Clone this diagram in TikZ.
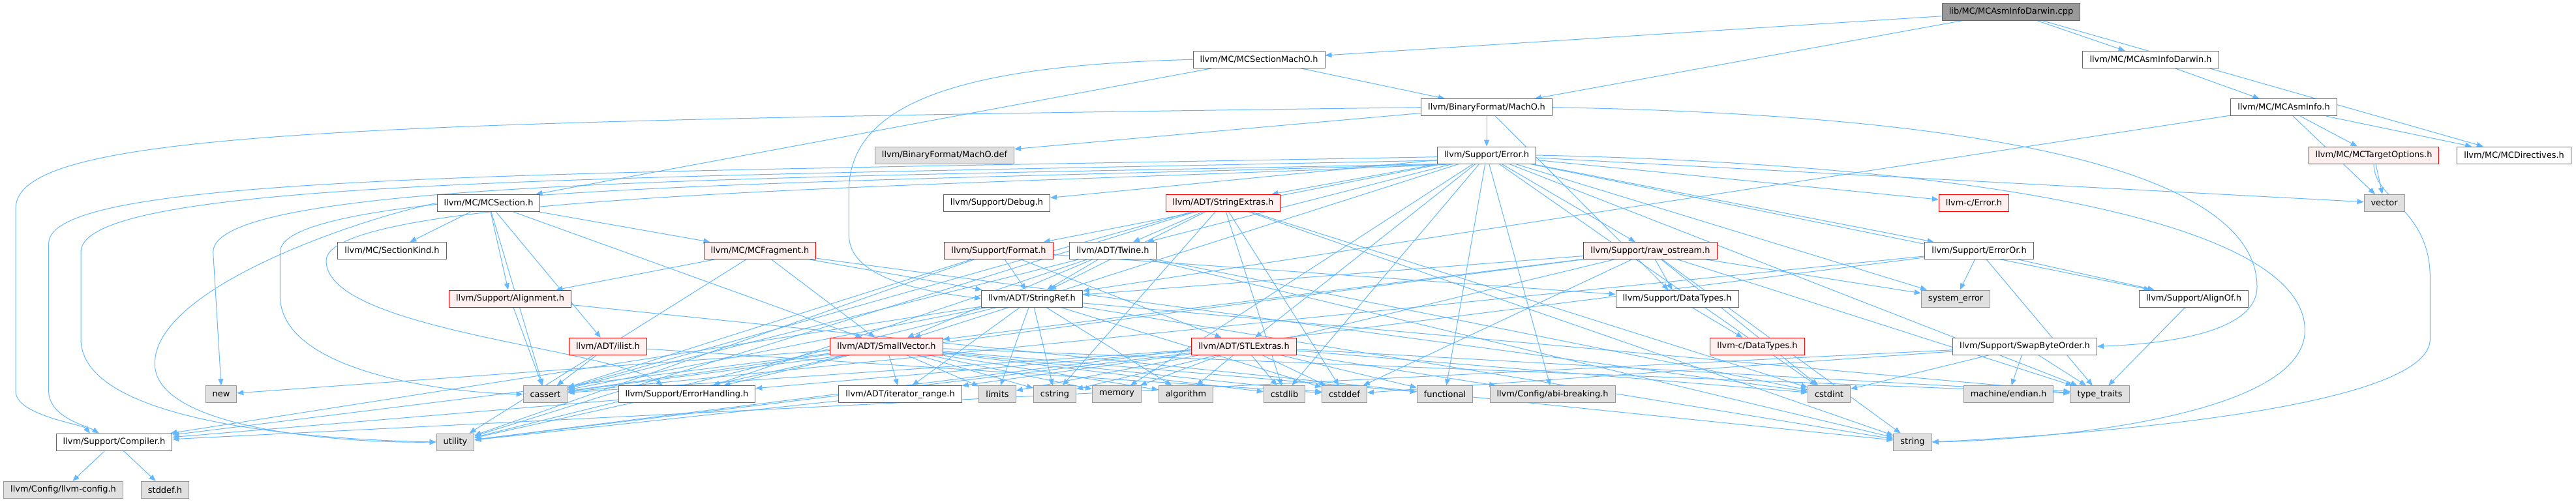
\documentclass[tikz,border=0pt]{standalone}
\usepackage{fontspec}
\setmainfont{DejaVu Sans}
\usepackage{xcolor}
\usepackage{tikz}
\usetikzlibrary{arrows.meta, positioning, backgrounds}

\definecolor{edgeblue}{HTML}{63B8FF}
\definecolor{truncfill}{HTML}{FFF0F0}
\definecolor{sysfill}{HTML}{E0E0E0}

\begin{document}
\begin{tikzpicture}[
        file/.style={rectangle, draw=black!60, line width=0.75pt, fill=white, minimum height=19.5pt, inner xsep=7.9pt, inner ysep=0pt, font=\fontsize{9.7pt}{11pt}\selectfont},
        trunc/.style={file, draw=red, fill=truncfill},
        sys/.style={file, draw=black!40, fill=sysfill},
        root/.style={file, draw=black!60, fill=black!40},
        arrow/.style={-{Triangle[length=7.5pt, width=6pt]}, draw=edgeblue, line width=0.75pt},
        on grid, node distance=55pt
    ]
        \useasboundingbox (0,0) rectangle (2961.75pt,-576.75pt);

        % source file and the headers it includes
        \node[root] (cpp) at (2312.25pt,-13.5pt) {lib/MC/MCAsmInfoDarwin.cpp};
        \node[file, below left=55pt and 864.75pt of cpp] (secmacho) {llvm/MC/MCSectionMachO.h};
        \node[file, below right=55pt and 160.5pt of cpp] (asmdarwin) {llvm/MC/MCAsmInfoDarwin.h};
        \node[file, below right=55pt and 261.75pt of secmacho] (macho) {llvm/BinaryFormat/MachO.h};
        \node[file, below right=55pt and 153pt of asmdarwin] (asminfo) {llvm/MC/MCAsmInfo.h};
        \node[file, below=of macho] (error) {llvm/Support/Error.h};
        \node[sys, left=623.25pt of error] (machodef) {llvm/BinaryFormat/MachO.def};
        \node[trunc, below right=55pt and 103.5pt of asminfo] (targetopt) {llvm/MC/MCTargetOptions.h};
        \node[file, right=161.25pt of targetopt] (directives) {llvm/MC/MCDirectives.h};

        % MC and Support headers
        \node[trunc, below left=55pt and 303pt of error] (strextras) {llvm/ADT/StringExtras.h};
        \node[file, left=260.25pt of strextras] (debug) {llvm/Support/Debug.h};
        \node[file, left=584.25pt of debug] (section) {llvm/MC/MCSection.h};
        \node[trunc, below right=55pt and 560.25pt of error] (cerror) {llvm-c/Error.h};
        \node[sys, below right=55pt and 12pt of targetopt] (vector) {vector};

        \node[file, below left=55pt and 111pt of section] (sectionkind) {llvm/MC/SectionKind.h};
        \node[trunc, right=423pt of sectionkind] (fragment) {llvm/MC/MCFragment.h};
        \node[trunc, below right=55pt and 2.25pt of debug] (format) {llvm/Support/Format.h};
        \node[file, right=131.25pt of format] (twine) {llvm/ADT/Twine.h};
        \node[trunc, right=618pt of twine] (rawos) {llvm/Support/raw\_ostream.h};
        \node[file, below right=55pt and 6pt of cerror] (erroror) {llvm/Support/ErrorOr.h};

        \node[trunc, below right=55pt and 135.75pt of sectionkind] (alignment) {llvm/Support/Alignment.h};
        \node[file, below right=55pt and 38.25pt of format] (stringref) {llvm/ADT/StringRef.h};
        \node[file, below right=55pt and 30.75pt of rawos] (datatypes) {llvm/Support/DataTypes.h};
        \node[sys, below left=55pt and 27pt of erroror] (syserr) {system\_error};
        \node[file, right=273.75pt of syserr] (alignof) {llvm/Support/AlignOf.h};

        % ADT headers
        \node[trunc, below right=55pt and 112.5pt of alignment] (ilist) {llvm/ADT/ilist.h};
        \node[trunc, right=320.25pt of ilist] (smallvec) {llvm/ADT/SmallVector.h};
        \node[trunc, right=411pt of smallvec] (stlextras) {llvm/ADT/STLExtras.h};
        \node[trunc, below right=55pt and 92.25pt of datatypes] (cdatatypes) {llvm-c/DataTypes.h};
        \node[file, below right=55pt and 79.5pt of syserr] (swap) {llvm/Support/SwapByteOrder.h};

        % leaves
        \node[file, below right=55pt and 15.75pt of smallvec] (iterrange) {llvm/ADT/iterator\_range.h};
        \node[file, left=245.25pt of iterrange] (errhandling) {llvm/Support/ErrorHandling.h};
        \node[sys, left=162.75pt of errhandling] (cassert) {cassert};
        \node[sys, left=372.75pt of cassert] (new) {new};
        \node[sys, right=111.75pt of iterrange] (limits) {limits};
        \node[sys, right=66pt of limits] (cstring) {cstring};
        \node[sys, right=71.25pt of cstring] (memory) {memory};
        \node[sys, right=79.5pt of memory] (algorithm) {algorithm};
        \node[sys, right=113.25pt of algorithm] (cstdlib) {cstdlib};
        \node[sys, right=69pt of cstdlib] (cstddef) {cstddef};
        \node[sys, right=115.5pt of cstddef] (functional) {functional};
        \node[sys, right=123.75pt of functional] (abibreak) {llvm/Config/abi-breaking.h};
        \node[sys, right=318pt of abibreak] (cstdint) {cstdint};
        \node[sys, below left=55pt and 18.75pt of swap] (endian) {machine/endian.h};
        \node[sys, right=105pt of endian] (typetraits) {type\_traits};

        \node[file, below left=55pt and 123pt of new] (compiler) {llvm/Support/Compiler.h};
        \node[sys, below left=55pt and 103.5pt of cassert] (utility) {utility};
        \node[sys, below right=55pt and 96pt of cstdint] (string) {string};
        \node[sys, below left=55pt and 58.5pt of compiler] (llvmconfig) {llvm/Config/llvm-config.h};
        \node[sys, right=117pt of llvmconfig] (stddef) {stddef.h};

        \begin{scope}[on background layer]
        % top of the graph
        \draw[arrow] (cpp) -- (secmacho);
        \draw[arrow] (cpp) -- (macho);
        \draw[arrow] (cpp) -- (asmdarwin);
        \draw[arrow] (cpp) -- (directives);
        \draw[arrow] (asmdarwin) -- (asminfo);
        \draw[arrow] (asminfo) -- (stringref);
        \draw[arrow] (asminfo) -- (targetopt);
        \draw[arrow] (asminfo) -- (directives);
        \draw[arrow] (asminfo) -- (vector);
        \draw[arrow] (targetopt) -- (vector);
        \draw[arrow] (targetopt.south) .. controls (2729pt,-230pt) and (2794pt,-240pt) .. (2794pt,-320pt) -- (2794pt,-390pt) .. controls (2794pt,-470pt) and (2400pt,-500pt) .. (string.east);
        \draw[arrow] (secmacho) -- (macho);
        \draw[arrow] (secmacho) -- (section);
        \draw[arrow] (secmacho.west) .. controls (1100pt,-75pt) and (976pt,-120pt) .. (976pt,-220pt) -- (976pt,-270pt) .. controls (976pt,-320pt) and (1060pt,-335pt) .. (stringref.west);
        \draw[arrow] (macho) -- (machodef);
        \draw[arrow] (macho) -- (error);
        \draw[arrow] (macho.west) .. controls (400pt,-140pt) and (18pt,-150pt) .. (18pt,-240pt) -- (18pt,-450pt) .. controls (18pt,-478pt) and (95pt,-488pt) .. (compiler.160);
        \draw[arrow] (macho) -- (datatypes);
        \draw[arrow] (macho.east) .. controls (2450pt,-135pt) and (2595pt,-240pt) .. (2595pt,-330pt) .. controls (2595pt,-385pt) and (2480pt,-396pt) .. (swap.east);

        % Error.h
        \draw[arrow] (error) -- (cerror);
        \draw[arrow] (error) -- (stlextras);
        \draw[arrow] (error) -- (smallvec);
        \draw[arrow] (error) -- (strextras);
        \draw[arrow] (error) -- (twine);
        \draw[arrow] (error) -- (abibreak);
        \draw[arrow] (error) -- (alignof);
        \draw[arrow] (error.182) .. controls (600pt,-200pt) and (56pt,-200pt) .. (56pt,-280pt) -- (56pt,-450pt) .. controls (56pt,-480pt) and (100pt,-490pt) .. (compiler.150);
        \draw[arrow] (error) -- (debug);
        \draw[arrow] (error.196) .. controls (1100pt,-215pt) and (375pt,-220pt) .. (375pt,-300pt) .. controls (375pt,-380pt) and (700pt,-400pt) .. (errhandling.160);
        \draw[arrow] (error) -- (erroror);
        \draw[arrow] (error) -- (format);
        \draw[arrow] (error) -- (rawos);
        \draw[arrow] (error.193) .. controls (1000pt,-210pt) and (322pt,-210pt) .. (322pt,-290pt) -- (322pt,-340pt) .. controls (322pt,-430pt) and (520pt,-452pt) .. (cassert.west);
        \draw[arrow] (error) -- (cstdint);
        \draw[arrow] (error) -- (cstdlib);
        \draw[arrow] (error) -- (functional);
        \draw[arrow] (error) -- (memory);
        \draw[arrow] (error.190) .. controls (900pt,-205pt) and (245pt,-205pt) .. (245pt,-290pt) -- (new.north);
        \draw[arrow] (error.east) .. controls (2300pt,-190pt) and (2650pt,-260pt) .. (2650pt,-380pt) .. controls (2650pt,-480pt) and (2350pt,-506pt) .. (string.east);
        \draw[arrow] (error) -- (syserr);
        \draw[arrow] (error) -- (typetraits);
        \draw[arrow] (error.186) .. controls (700pt,-205pt) and (93pt,-205pt) .. (93pt,-290pt) -- (93pt,-390pt) .. controls (93pt,-490pt) and (380pt,-506pt) .. (utility.west);
        \draw[arrow] (error) -- (vector);

        % MC headers
        \draw[arrow] (section) -- (sectionkind);
        \draw[arrow] (section) -- (fragment);
        \draw[arrow] (section) -- (alignment);
        \draw[arrow] (section) -- (ilist);
        \draw[arrow] (section) -- (smallvec);
        \draw[arrow] (section) -- (cassert);
        \draw[arrow] (section.west) .. controls (420pt,-250pt) and (175pt,-330pt) .. (178pt,-420pt) .. controls (181pt,-495pt) and (400pt,-510pt) .. (utility.west);
        \draw[arrow] (fragment) -- (alignment);
        \draw[arrow] (fragment) -- (smallvec);
        \draw[arrow] (fragment) -- (stringref);
        \draw[arrow] (fragment) -- (cstdint);
        \draw[arrow] (fragment) -- (utility);
        \draw[arrow] (alignment) -- (cassert);
        \draw[arrow] (alignment) -- (string);

        % Support headers
        \draw[arrow] (strextras) -- (stringref);
        \draw[arrow] (strextras) -- (twine);
        \draw[arrow] (strextras) -- (cassert);
        \draw[arrow] (strextras) -- (cstddef);
        \draw[arrow] (strextras) -- (cstdint);
        \draw[arrow] (strextras) -- (cstdlib);
        \draw[arrow] (strextras) -- (cstring);
        \draw[arrow] (strextras) -- (string);
        \draw[arrow] (strextras) -- (utility);
        \draw[arrow] (format) -- (stlextras);
        \draw[arrow] (format) -- (stringref);
        \draw[arrow] (format) -- (datatypes);
        \draw[arrow] (format) -- (cassert);
        \draw[arrow] (format) -- (utility);
        \draw[arrow] (twine) -- (smallvec);
        \draw[arrow] (twine) -- (stringref);
        \draw[arrow] (twine) -- (errhandling);
        \draw[arrow] (twine) -- (cassert);
        \draw[arrow] (twine) -- (cstdint);
        \draw[arrow] (twine) -- (string);
        \draw[arrow] (rawos) -- (smallvec);
        \draw[arrow] (rawos) -- (stringref);
        \draw[arrow] (rawos) -- (datatypes);
        \draw[arrow] (rawos) -- (cassert);
        \draw[arrow] (rawos) -- (cstddef);
        \draw[arrow] (rawos) -- (cstdint);
        \draw[arrow] (rawos) -- (cstring);
        \draw[arrow] (rawos) -- (string);
        \draw[arrow] (rawos) -- (syserr);
        \draw[arrow] (rawos) -- (typetraits);
        \draw[arrow] (erroror) -- (alignof);
        \draw[arrow] (erroror) -- (cassert);
        \draw[arrow] (erroror) -- (syserr);
        \draw[arrow] (erroror) -- (typetraits);
        \draw[arrow] (erroror) -- (utility);
        \draw[arrow] (datatypes) -- (cdatatypes);
        \draw[arrow] (alignof) -- (typetraits);
        \draw[arrow] (swap) -- (compiler);
        \draw[arrow] (swap) -- (cstddef);
        \draw[arrow] (swap) -- (cstdint);
        \draw[arrow] (swap) -- (endian);
        \draw[arrow] (swap) -- (typetraits);

        % ADT headers
        \draw[arrow] (stringref) -- (iterrange);
        \draw[arrow] (stringref) -- (compiler);
        \draw[arrow] (stringref) -- (algorithm);
        \draw[arrow] (stringref) -- (cassert);
        \draw[arrow] (stringref) -- (cstddef);
        \draw[arrow] (stringref) -- (cstring);
        \draw[arrow] (stringref) -- (limits);
        \draw[arrow] (stringref) -- (string);
        \draw[arrow] (stringref) -- (typetraits);
        \draw[arrow] (stringref) -- (utility);
        \draw[arrow] (ilist) -- (cassert);
        \draw[arrow] (ilist) -- (cstddef);
        \draw[arrow] (smallvec) -- (iterrange);
        \draw[arrow] (smallvec) -- (compiler);
        \draw[arrow] (smallvec) -- (errhandling);
        \draw[arrow] (smallvec) -- (algorithm);
        \draw[arrow] (smallvec) -- (cassert);
        \draw[arrow] (smallvec) -- (cstddef);
        \draw[arrow] (smallvec) -- (cstdlib);
        \draw[arrow] (smallvec) -- (cstring);
        \draw[arrow] (smallvec) -- (functional);
        \draw[arrow] (smallvec) -- (limits);
        \draw[arrow] (smallvec) -- (memory);
        \draw[arrow] (smallvec) -- (new);
        \draw[arrow] (smallvec) -- (typetraits);
        \draw[arrow] (smallvec) -- (utility);
        \draw[arrow] (stlextras) -- (iterrange);
        \draw[arrow] (stlextras) -- (abibreak);
        \draw[arrow] (stlextras) -- (errhandling);
        \draw[arrow] (stlextras) -- (algorithm);
        \draw[arrow] (stlextras) -- (cassert);
        \draw[arrow] (stlextras) -- (cstddef);
        \draw[arrow] (stlextras) -- (cstdint);
        \draw[arrow] (stlextras) -- (cstdlib);
        \draw[arrow] (stlextras) -- (functional);
        \draw[arrow] (stlextras) -- (limits);
        \draw[arrow] (stlextras) -- (memory);
        \draw[arrow] (stlextras) -- (typetraits);
        \draw[arrow] (stlextras) -- (utility);

        % bottom
        \draw[arrow] (errhandling) -- (compiler);
        \draw[arrow] (iterrange) -- (utility);
        \draw[arrow] (compiler) -- (llvmconfig);
        \draw[arrow] (compiler) -- (stddef);
        \end{scope}
    \end{tikzpicture}
\end{document}
